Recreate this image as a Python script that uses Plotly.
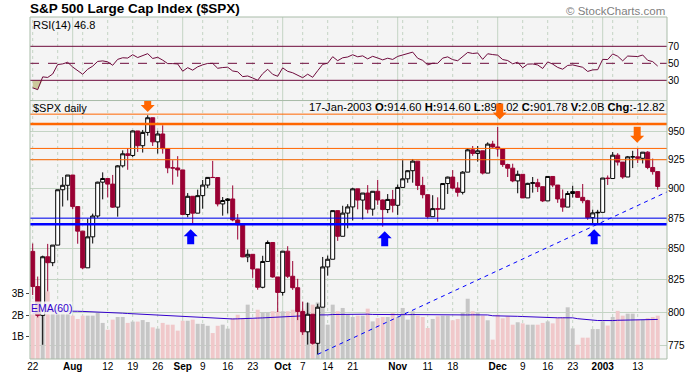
import pandas as pd
import plotly.graph_objects as go

# ---------------- data ----------------
holidays = ["2002-09-02", "2002-11-28", "2002-12-25", "2003-01-01"]
dates = [d for d in pd.bdate_range("2002-07-22", "2003-01-17") if d.strftime("%Y-%m-%d") not in holidays]

opens = [847.75, 819.85, 797.70, 843.43, 838.68, 852.84, 898.96, 902.78, 911.62, 884.66,
         864.24, 834.60, 859.57, 876.77, 905.46, 908.64, 903.80, 884.21, 919.62, 930.25,
         928.77, 950.70, 937.43, 949.36, 962.70, 940.86, 947.95, 934.82, 917.87, 917.80,
         916.07, 878.02, 893.40, 879.15, 893.92, 902.96, 909.58, 909.45, 886.91, 889.81,
         891.10, 873.52, 869.46, 843.32, 845.39, 833.70, 819.29, 839.66, 854.95, 827.37,
         815.28, 847.91, 827.91, 818.95, 800.58, 785.28, 798.55, 776.76, 803.92, 835.32,
         841.44, 881.27, 860.02, 879.20, 884.39, 899.72, 890.16, 896.14, 882.50, 897.65,
         890.23, 882.15, 890.71, 885.76, 900.96, 908.35, 915.39, 923.76, 902.65, 894.74,
         876.19, 882.95, 882.53, 904.27, 909.83, 900.36, 896.74, 914.15, 933.76, 930.55,
         932.87, 913.31, 938.87, 936.31, 934.53, 920.75, 917.58, 906.55, 912.23, 892.00,
         904.45, 904.96, 901.58, 889.48, 910.40, 902.99, 891.12, 884.25, 895.76, 897.38,
         892.47, 889.66, 875.40, 879.39, 879.82, 909.03, 908.59, 929.01, 922.93, 909.93,
         927.57, 927.57, 926.26, 931.66, 918.22, 914.60]
highs = [854.13, 827.69, 844.32, 853.83, 852.85, 898.96, 909.81, 911.64, 911.62, 884.72,
         864.24, 874.44, 878.74, 905.84, 913.95, 908.64, 911.71, 920.21, 933.29, 935.38,
         951.17, 950.70, 951.59, 965.00, 962.70, 950.80, 955.82, 934.82, 924.59, 928.15,
         916.07, 896.10, 893.40, 899.07, 907.34, 909.89, 924.02, 909.45, 892.75, 891.84,
         902.68, 878.45, 869.46, 849.32, 845.39, 833.70, 844.22, 856.60, 854.95, 827.37,
         847.93, 851.93, 840.02, 825.90, 808.21, 807.51, 798.55, 806.51, 843.27, 844.39,
         881.27, 881.27, 885.35, 886.68, 900.69, 899.72, 896.14, 902.94, 897.71, 907.44,
         890.64, 895.28, 898.83, 903.42, 924.58, 915.83, 925.66, 923.76, 910.11, 894.74,
         894.30, 892.51, 904.27, 910.21, 915.91, 905.45, 915.01, 935.13, 937.15, 937.15,
         932.87, 940.41, 941.82, 954.28, 934.53, 921.49, 921.49, 915.48, 912.23, 904.95,
         909.94, 908.37, 901.58, 910.42, 910.40, 902.99, 899.19, 897.79, 902.43, 897.38,
         903.89, 890.46, 882.10, 881.93, 909.03, 911.25, 931.77, 930.81, 922.93, 928.31,
         932.89, 935.05, 931.66, 932.59, 926.03, 914.60]
lows = [813.26, 796.13, 775.68, 816.11, 835.92, 852.84, 884.70, 889.88, 882.48, 853.95,
        833.44, 834.60, 854.15, 875.17, 890.77, 892.38, 883.62, 876.20, 918.17, 916.21,
        927.21, 931.86, 931.32, 946.43, 937.17, 930.42, 930.36, 913.21, 903.33, 910.17,
        877.51, 875.73, 870.50, 879.15, 882.92, 900.50, 909.45, 884.84, 877.05, 878.91,
        872.38, 857.39, 843.09, 839.09, 826.63, 817.38, 818.46, 839.66, 826.84, 800.20,
        812.82, 826.50, 817.25, 794.10, 782.96, 775.80, 775.80, 768.63, 803.92, 828.37,
        841.44, 856.28, 860.02, 866.58, 873.06, 882.40, 873.82, 879.00, 877.03, 886.15,
        867.91, 879.19, 879.75, 877.71, 900.96, 904.91, 905.00, 898.68, 891.62, 874.63,
        876.19, 872.05, 882.53, 895.35, 899.48, 893.09, 894.93, 914.15, 928.45, 923.31,
        912.10, 913.31, 935.58, 927.72, 918.73, 909.90, 905.43, 895.96, 891.87, 892.00,
        896.48, 897.00, 888.48, 889.48, 901.15, 887.82, 880.32, 884.25, 892.26, 892.29,
        887.48, 873.62, 870.23, 869.45, 879.82, 903.07, 908.59, 919.93, 908.32, 909.93,
        917.66, 922.05, 921.72, 916.70, 911.98, 899.02]
closes = [819.85, 797.70, 843.43, 838.68, 852.84, 898.96, 902.78, 911.62, 884.66, 864.24,
          834.60, 859.57, 876.77, 905.46, 908.64, 903.80, 884.21, 919.62, 930.25, 928.77,
          950.70, 937.43, 949.36, 962.70, 940.86, 947.95, 934.82, 917.87, 917.80, 916.07,
          878.02, 893.40, 879.15, 893.92, 902.96, 909.58, 909.45, 886.91, 889.81, 891.10,
          873.52, 869.46, 843.32, 845.39, 833.70, 819.29, 839.66, 854.95, 827.37, 815.28,
          847.91, 827.91, 818.95, 800.58, 785.28, 798.55, 776.76, 803.92, 835.32, 841.44,
          881.27, 860.02, 879.20, 884.39, 899.72, 890.16, 896.14, 882.50, 897.65, 890.23,
          882.15, 890.71, 885.76, 900.96, 908.35, 915.39, 923.76, 902.65, 894.74, 876.19,
          882.95, 882.53, 904.27, 909.83, 900.36, 896.74, 914.15, 933.76, 930.55, 932.87,
          913.31, 938.87, 936.31, 934.53, 920.75, 917.58, 906.55, 912.23, 892.00, 904.45,
          904.96, 901.58, 889.48, 910.40, 902.99, 891.12, 884.25, 895.76, 897.38, 892.47,
          889.66, 875.40, 879.39, 879.82, 909.03, 908.59, 929.01, 922.93, 909.93, 927.57,
          927.57, 926.26, 931.66, 918.22, 914.60, 901.78]
volume_b = [2.62, 3.27, 3.40, 3.07, 2.30, 2.25, 2.25, 2.20,
            1.97, 1.82, 1.97, 1.97, 1.97, 2.09, 1.64, 1.33, 1.79, 1.91, 1.91, 1.64,
            1.70, 1.70, 1.77, 1.68, 1.44, 1.38, 1.64, 1.56, 1.56, 1.29, 1.74, 1.74,
            1.79, 1.60, 1.60, 1.51, 1.18, 1.51, 1.56, 1.38, 1.86,
            2.01, 1.86, 2.47, 1.82, 2.24, 2.12, 2.12, 2.17, 2.17, 2.17, 2.17, 2.24,
            2.35, 2.24, 2.55, 2.47, 2.57, 2.55, 1.56, 2.47, 2.17, 2.32, 2.01, 1.91,
            1.97, 1.97, 2.29, 1.71, 1.86, 1.91, 1.91, 2.09, 1.91, 2.32, 1.79, 2.17,
            1.97, 1.91, 1.41, 1.82, 1.94, 1.97, 1.97, 1.76, 1.82,
            2.12, 2.74, 2.17, 2.12, 1.97, 1.76, 0.88, 2.01, 1.85, 1.94, 1.56, 1.67,
            1.62, 1.56, 1.56, 1.56, 1.64, 1.71, 1.62, 1.86, 1.91, 2.35, 1.39, 0.65,
            0.97, 0.97, 1.36, 1.36, 1.71, 1.52, 1.91, 2.19, 1.97, 2.06, 2.06, 1.79,
            1.79, 1.86, 1.91, 1.97]

tick_idx = [0, 8, 15, 20, 25, 30, 34, 39, 44, 50, 54, 59, 64, 73, 79, 84, 93, 98, 103, 108, 114, 121]
tick_text = ["22", "<b>Aug</b>", "12", "19", "26", "<b>Sep</b>", "9", "16", "23", "<b>Oct</b>", "7", "14",
             "21", "<b>Nov</b>", "11", "18", "<b>Dec</b>", "9", "16", "23", "<b>2003</b>", "13"]
month_idx = [8, 30, 50, 73, 93, 114]
week_idx = [0, 5, 10, 15, 20, 25, 34, 39, 44, 49, 54, 59, 64, 69, 74, 79, 84, 89, 98, 103, 108, 112, 116, 121]

# annotation levels (price) drawn on the chart
orange_levels = [966, 957, 935, 925]
orange_widths = [1, 2.5, 1, 1]
blue_levels = [875, 870]
blue_widths = [1, 2.5]
trend_x = [57, 126.9]
trend_p = [768.63, 897.2]
down_arrows = [(23.0, 968.0), (93.4, 961.0), (120.9, 940.0)]
up_arrows = [(31.6, 865.8), (70.4, 864.2), (112.3, 865.8)]

RSI_SEED_GAIN, RSI_SEED_LOSS = 3.4, 10.5
EMA_SEED = 2.05

# ---------------- derived ----------------
n = len(closes)
x = list(range(n))
rsi = []
ag, al, prev = RSI_SEED_GAIN, RSI_SEED_LOSS, opens[0]
for c in closes:
    ch = c - prev
    ag = (ag * 13 + max(ch, 0)) / 14
    al = (al * 13 + max(-ch, 0)) / 14
    rsi.append(100 - 100 / (1 + ag / al))
    prev = c
ema = []
e = EMA_SEED
k = 2 / 61
for v in volume_b:
    e = e + k * (v - e)
    ema.append(e)
prevs = [opens[0]] + closes[:-1]
vol_colors = ["#f0c8ca" if c < p else "#c6c6c6" for c, p in zip(closes, prevs)]

XMIN, XMAX = -0.54, 126.86
FONT = "Liberation Sans"
GRID = "#c4d4c4"
MAROON = "#6e0a3c"

fig = go.Figure()
fig.add_trace(go.Bar(x=x, y=volume_b, marker=dict(color=vol_colors, line=dict(width=0)), width=0.8,
                     xaxis="x", yaxis="y2", hoverinfo="skip"))
fig.add_trace(go.Scatter(x=x, y=ema, mode="lines", line=dict(color="#3300cc", width=1),
                         xaxis="x", yaxis="y2", hoverinfo="skip"))
for lv, w in zip(orange_levels, orange_widths):
    fig.add_trace(go.Scatter(x=[XMIN, XMAX], y=[lv, lv], mode="lines", line=dict(color="#ff6600", width=w),
                             xaxis="x", yaxis="y3", hoverinfo="skip"))
for lv, w in zip(blue_levels, blue_widths):
    fig.add_trace(go.Scatter(x=[XMIN, XMAX], y=[lv, lv], mode="lines", line=dict(color="#0000ff", width=w),
                             xaxis="x", yaxis="y3", hoverinfo="skip"))
fig.add_trace(go.Scatter(x=trend_x, y=trend_p, mode="lines", line=dict(color="#0000ff", width=1, dash="4px,4px"),
                         xaxis="x", yaxis="y3", hoverinfo="skip"))
fig.add_trace(go.Candlestick(x=x, open=opens, high=highs, low=lows, close=closes,
                             increasing=dict(line=dict(color="black", width=1), fillcolor="white"),
                             decreasing=dict(line=dict(color="#990033", width=1), fillcolor="#990033"),
                             whiskerwidth=0, xaxis="x", yaxis="y3", hoverinfo="skip"))
last = n - 1
hdr = (f"{dates[last].strftime('%d-%b-%Y')} <b>O:</b>{opens[last]:.2f} <b>H:</b>{highs[last]:.2f} "
       f"<b>L:</b>{lows[last]:.2f} <b>C:</b>{closes[last]:.2f} <b>V:</b>{volume_b[last]:.1f}B "
       f"<b>Chg:</b>{closes[last] - prevs[last]:.2f}")
fig.add_trace(go.Scatter(x=[XMAX - 0.45], y=[971.5], mode="text", text=[hdr], textposition="middle left",
                         textfont=dict(family=FONT, size=11.2, color="black"), cliponaxis=False,
                         xaxis="x", yaxis="y3", hoverinfo="skip"))
fig.add_trace(go.Scatter(x=x, y=[30] * n, mode="lines", line=dict(width=0), xaxis="x", yaxis="y", hoverinfo="skip"))
fig.add_trace(go.Scatter(x=x, y=[min(r, 30) for r in rsi], mode="lines", line=dict(width=0), fill="tonexty",
                         fillcolor="#cdc89c", xaxis="x", yaxis="y", hoverinfo="skip"))
fig.add_trace(go.Scatter(x=x, y=rsi, mode="lines", line=dict(color=MAROON, width=1), xaxis="x", yaxis="y",
                         hoverinfo="skip"))

shapes = []
RSI_BOT = 0.7558
for i in week_idx:
    shapes.append(dict(type="line", xref="x", yref="paper", x0=i, x1=i, y0=0, y1=1, layer="below",
                       line=dict(color=GRID, width=1, dash="3px,3px")))
for i in month_idx:
    shapes.append(dict(type="line", xref="x", yref="paper", x0=i, x1=i, y0=0, y1=1, layer="below",
                       line=dict(color=GRID, width=1)))
for lv, d in [(70, "solid"), (50, "dash"), (30, "solid")]:
    shapes.append(dict(type="line", xref="paper", yref="y", x0=0, x1=1, y0=lv, y1=lv,
                       line=dict(color=MAROON, width=1, dash=d)))
down_path = "M0,0 L7,7 L3.5,7 L3.5,16 L-3.5,16 L-3.5,7 L-7,7 Z"
up_path = "M0,0 L7,-7 L3.5,-7 L3.5,-15 L-3.5,-15 L-3.5,-7 L-7,-7 Z"
for xa, pa in down_arrows:
    shapes.append(dict(type="path", xref="x", yref="y3", xsizemode="pixel", ysizemode="pixel",
                       xanchor=xa, yanchor=pa, path=down_path, fillcolor="#ff6600", line=dict(width=0)))
for xa, pa in up_arrows:
    shapes.append(dict(type="path", xref="x", yref="y3", xsizemode="pixel", ysizemode="pixel",
                       xanchor=xa, yanchor=pa, path=up_path, fillcolor="#0000ff", line=dict(width=0)))
for y0, y1 in [(RSI_BOT, 1), (0, RSI_BOT)]:
    shapes.append(dict(type="rect", xref="paper", yref="paper", x0=0, x1=1, y0=y0, y1=y1,
                       line=dict(color="#a9bca9", width=1), fillcolor="rgba(0,0,0,0)", layer="above"))

annotations = [
    dict(text="<b>S&P 500 Large Cap Index ($SPX)</b>", xref="paper", yref="paper", x=0, y=1.026,
         xanchor="left", yanchor="middle", showarrow=False, xshift=-2, font=dict(family=FONT, size=13.5, color="black")),
    dict(text="© StockCharts.com", xref="paper", yref="paper", x=1, y=1.018, xanchor="right", yanchor="middle",
         showarrow=False, font=dict(family=FONT, size=11.5, color="#808080")),
    dict(text=f"RSI(14) {rsi[-1]:.1f}", xref="paper", yref="paper", x=0, y=0.978, xanchor="left",
         yanchor="middle", showarrow=False, xshift=1, font=dict(family=FONT, size=11, color="black")),
    dict(text="$SPX daily", xref="paper", yref="paper", x=0, y=0.735, xanchor="left",
         yanchor="middle", showarrow=False, xshift=1, font=dict(family=FONT, size=11, color="black")),
    dict(text="EMA(60)", xref="paper", yref="paper", x=0, y=0.150, xanchor="left", yanchor="middle",
         showarrow=False, xshift=0, bgcolor="rgba(248,248,248,0.85)", borderpad=0,
         font=dict(family=FONT, size=10.5, color="#3300cc")),
]

axis_common = dict(automargin=False, zeroline=False, showline=False)
fig.update_layout(
    template="none",
    width=695, height=374, margin=dict(l=30, r=28, t=17, b=15, pad=0, autoexpand=False),
    paper_bgcolor="white", plot_bgcolor="#f4f4f4", showlegend=False,
    boxgap=0.2, boxgroupgap=0,
    font=dict(family=FONT, size=10, color="black"),
    xaxis=dict(domain=[0, 1], range=[XMIN, XMAX], tickmode="array", tickvals=tick_idx, ticktext=tick_text,
               showgrid=False, ticks="", anchor="y2", rangeslider=dict(visible=False),
               tickfont=dict(family=FONT, size=10, color="black"), **axis_common),
    yaxis=dict(domain=[RSI_BOT, 1], range=[6.24, 104.5], side="right", tickmode="array",
               tickvals=[30, 50, 70], showgrid=False, anchor="x", ticks="",
               tickfont=dict(family=FONT, size=10, color="black"), **axis_common),
    yaxis2=dict(domain=[0, RSI_BOT], range=[0, 11.75], side="left", tickmode="array", tickvals=[1, 2, 3],
                ticktext=["1B", "2B", "3B"], ticks="outside", ticklen=3, tickcolor="#444",
                showgrid=False, anchor="x", tickfont=dict(family=FONT, size=10, color="black"), **axis_common),
    yaxis3=dict(overlaying="y2", type="log", range=[2.8838, 2.99061], side="right", anchor="x",
                tickmode="array", tickvals=[775, 800, 825, 850, 875, 900, 925, 950],
                ticktext=["775", "800", "825", "850", "875", "900", "925", "950"],
                showgrid=True, gridcolor=GRID, gridwidth=1, ticks="",
                tickfont=dict(family=FONT, size=10, color="black"), **axis_common),
    shapes=shapes, annotations=annotations,
)
fig.write_html("out.html", config={"displayModeBar": False, "staticPlot": True},
               post_script="document.body.style.margin='0px';")
